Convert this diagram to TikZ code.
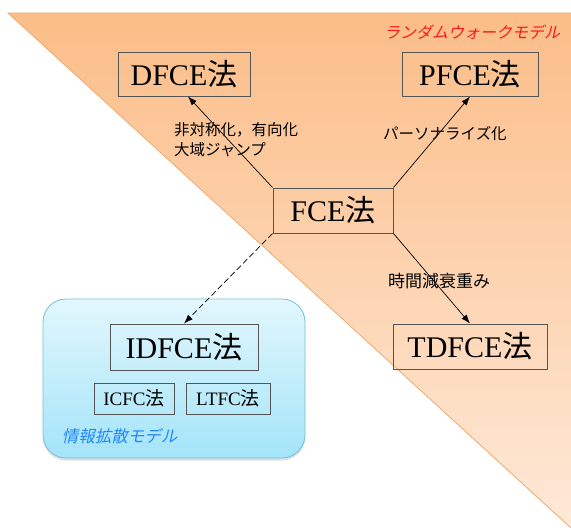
\documentclass[tikz,border=0pt]{standalone}
\usepackage{fontspec}
\setmainfont{Liberation Serif}
\newfontfamily\jp{Noto Sans CJK JP}
\newfontfamily\jpit[FakeSlant=0.22]{Noto Sans CJK JP}
\usetikzlibrary{arrows.meta,shadows}
\definecolor{orangetop}{RGB}{251,189,136}
\definecolor{orangebot}{RGB}{254,233,216}
\definecolor{orangeedge}{RGB}{243,168,108}
\definecolor{bluetop}{RGB}{226,247,253}
\definecolor{bluebot}{RGB}{164,228,249}
\definecolor{blueedge}{RGB}{118,192,218}
\definecolor{bluetext}{RGB}{35,135,250}
\definecolor{redtext}{RGB}{250,25,25}
\definecolor{boxline}{RGB}{85,85,85}
\tikzset{
  big/.style={draw=boxline, line width=1pt, inner sep=0pt, font=\fontsize{30}{36}\selectfont},
  small/.style={draw=boxline, line width=1pt, inner sep=0pt, font=\fontsize{19}{23}\selectfont},
  lab/.style={inner sep=0pt, font=\jp\fontsize{15.5}{20}\selectfont, align=left},
  conn/.style={line width=0.7pt, -{Latex[length=9pt,width=6.5pt]}},
}
\newcommand{\ho}{{\jp 法}}
\begin{document}
\begin{tikzpicture}[x=1pt,y=-1pt]
\useasboundingbox (0,0) rectangle (571,528);
\fill[white] (0,0) rectangle (571,528);
% orange triangle
\shade[top color=orangetop, bottom color=orangebot] (8,13) -- (571,13) -- (571,528) -- cycle;
\draw[orangeedge, line width=0.8pt] (571,528) -- (8,13) -- (571,13);
% blue rounded box
\shade[rounded corners=23pt, top color=bluetop, bottom color=bluebot, draw=blueedge, line width=0.8pt,
  drop shadow={opacity=0.25, shadow xshift=0pt, shadow yshift=-2.5pt}]
  (43,299) rectangle (305,458);
% region labels
\node[inner sep=0pt, text=redtext, font=\jpit\fontsize{16}{18}\selectfont] (rw) at (472,32) {ランダムウォークモデル};
\node[inner sep=0pt, text=bluetext, font=\jpit\fontsize{16.5}{18}\selectfont] (id) at (119.5,436) {情報拡散モデル};
% nodes
\node[big, minimum width=132pt, minimum height=44pt] (DFCE) at (184,74) {DFCE\ho};
\node[big, minimum width=136pt, minimum height=44pt] (PFCE) at (470,74) {PFCE\ho};
\node[big, minimum width=120pt, minimum height=45pt] (FCE) at (333,210.5) {FCE\ho};
\node[big, minimum width=148pt, minimum height=46pt] (IDFCE) at (184,347) {IDFCE\ho};
\node[big, minimum width=154pt, minimum height=45pt] (TDFCE) at (470,346.5) {TDFCE\ho};
\node[small, minimum width=80pt, minimum height=31pt] (ICFC) at (134,398.5) {ICFC\ho};
\node[small, minimum width=84pt, minimum height=31pt] (LTFC) at (228,398.5) {LTFC\ho};
% connectors
\draw[conn] (FCE.north west) -- ([xshift=4pt]DFCE.south);
\draw[conn] (FCE.north east) -- (PFCE.south);
\draw[conn] (FCE.south east) -- (TDFCE.north);
\draw[conn, dash pattern=on 6pt off 3pt] (FCE.south west) -- (IDFCE.north);
% edge labels
\node[lab, anchor=west] (l1) at (174,140) {非対称化，有向化\\大域ジャンプ};
\node[lab, anchor=west] (l2) at (383,133.5) {パーソナライズ化};
\node[lab, anchor=west, font=\jp\fontsize{17}{20}\selectfont] (l3) at (388,281) {時間減衰重み};
\end{tikzpicture}
\end{document}
